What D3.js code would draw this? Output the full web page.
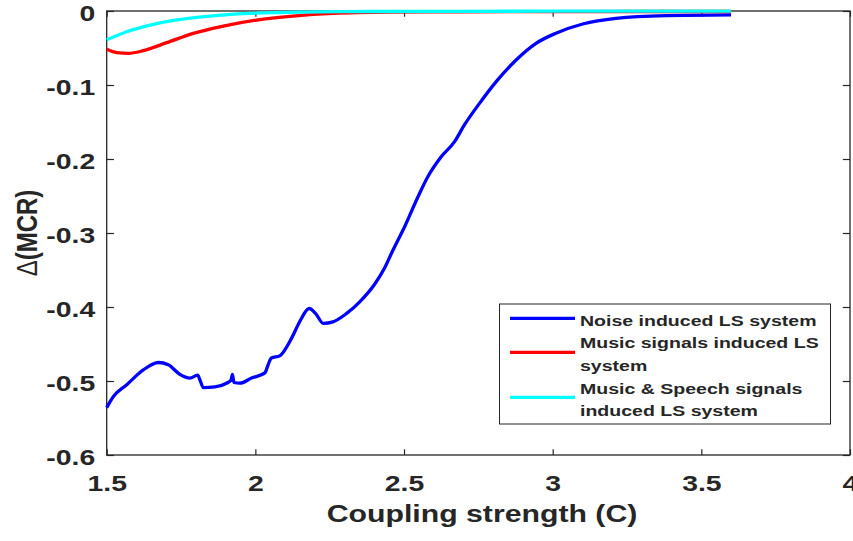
<!DOCTYPE html>
<html>
<head>
<meta charset="utf-8">
<script src="https://cdn.jsdelivr.net/npm/d3@7"></script>
<style>
  html, body { margin: 0; padding: 0; background: #fff; }
  svg text { font-family: "Liberation Sans", Arial, Helvetica, sans-serif; font-weight: bold; fill: #262626; }
</style>
</head>
<body>
<svg id="chart" width="853" height="541"></svg>
<script>
// ---------- data ----------
const xTicks = [1.5, 2, 2.5, 3, 3.5, 4];
const xTickLabels = ["1.5", "2", "2.5", "3", "3.5", "4"];
const yTicks = [0, -0.1, -0.2, -0.3, -0.4, -0.5, -0.6];
const yTickLabels = ["0", "-0.1", "-0.2", "-0.3", "-0.4", "-0.5", "-0.6"];

const noiseC = [1.500, 1.5225, 1.5675, 1.623, 1.674, 1.707, 1.746, 1.780, 1.806, 1.814, 1.825, 1.864, 1.903, 1.918, 1.923, 1.928, 1.948, 1.987, 2.032, 2.043, 2.054, 2.082, 2.122, 2.149, 2.181, 2.203, 2.228, 2.261, 2.306, 2.351, 2.400, 2.435, 2.463, 2.502, 2.547, 2.580, 2.625, 2.670, 2.703, 2.754, 2.810, 2.877, 2.944, 3.011, 3.101, 3.213, 3.381, 3.600];
const noiseMCR = [-0.536, -0.521, -0.505, -0.485, -0.475, -0.478, -0.491, -0.496, -0.492, -0.499, -0.509, -0.508, -0.503, -0.499, -0.491, -0.502, -0.503, -0.496, -0.489, -0.478, -0.469, -0.466, -0.442, -0.420, -0.402, -0.409, -0.422, -0.420, -0.409, -0.393, -0.370, -0.347, -0.323, -0.2915, -0.251, -0.224, -0.197, -0.1766, -0.154, -0.1248, -0.0955, -0.0662, -0.0437, -0.030, -0.0176, -0.0099, -0.0062, -0.0052];

const musicC = [1.500, 1.534, 1.573, 1.623, 1.702, 1.791, 1.892, 2.004, 2.127, 2.261, 2.450, 2.700, 3.000, 3.300, 3.600];
const musicMCR = [-0.0518, -0.0563, -0.0572, -0.0536, -0.0428, -0.0302, -0.0203, -0.0122, -0.0068, -0.0032, -0.0015, -0.0010, -0.0008, -0.0007, -0.0007];

const speechC = [1.500, 1.567, 1.646, 1.735, 1.847, 1.981, 2.149, 2.400, 2.700, 3.000, 3.300, 3.600];
const speechMCR = [-0.039, -0.028, -0.019, -0.012, -0.0068, -0.0032, -0.0014, -0.0007, -0.0004, -0.0003, -0.0003, -0.0003];

const seriesNames = ["Noise induced LS system", "Music signals induced LS system", "Music & Speech signals induced LS system"];
const seriesLegendLines = [["Noise induced LS system"], ["Music signals induced LS", "system"], ["Music & Speech signals", "induced LS system"]];
const seriesColors = ["#0000ff", "#ff0000", "#00ffff"];

const xTitle = "Coupling strength (C)";
const yTitleSymbol = "Δ";
const yTitleText = "(MCR)";

// ---------- layout ----------
const SX = 1.26; // horizontal stretch of glyphs, as in the reference
const pLeft = 106.7, pRight = 850, pTop = 11, pBottom = 455;
const axisColor = "#262626";

const svg = d3.select("#chart");
const x = d3.scaleLinear().domain([1.5, 4]).range([pLeft, pRight]);
const y = d3.scaleLinear().domain([-0.6, 0]).range([pBottom, pTop]);

// ticks (inward, on all four sides)
const gx = svg.append("g").attr("transform", `translate(0,${pBottom})`)
  .call(d3.axisBottom(x).tickValues(xTicks).tickSizeInner(-5.7).tickSizeOuter(0).tickFormat((d, i) => xTickLabels[i]));
gx.select(".domain").remove();
gx.selectAll(".tick line").attr("stroke", axisColor).attr("stroke-width", 1.2);
gx.selectAll(".tick text").attr("y", null).attr("dy", null)
  .attr("transform", `translate(0,35.5) scale(${SX},1)`)
  .style("font-size", "22.5px").attr("fill", axisColor);

const gxTop = svg.append("g").attr("transform", `translate(0,${pTop})`)
  .call(d3.axisTop(x).tickValues(xTicks).tickSizeInner(-5.7).tickSizeOuter(0).tickFormat(""));
gxTop.select(".domain").remove();
gxTop.selectAll(".tick line").attr("stroke", axisColor).attr("stroke-width", 1.2);

const gy = svg.append("g").attr("transform", `translate(${pLeft},0)`)
  .call(d3.axisLeft(y).tickValues(yTicks).tickSizeInner(-7.2).tickSizeOuter(0).tickFormat((d, i) => yTickLabels[i]));
gy.select(".domain").remove();
gy.selectAll(".tick line").attr("stroke", axisColor).attr("stroke-width", 1.2);
gy.selectAll(".tick text").attr("x", null).attr("dy", "0.4em")
  .attr("transform", `translate(-11.5,0) scale(${SX},1)`)
  .style("font-size", "22.5px").attr("fill", axisColor);

const gyRight = svg.append("g").attr("transform", `translate(${pRight},0)`)
  .call(d3.axisRight(y).tickValues(yTicks).tickSizeInner(-7.2).tickSizeOuter(0).tickFormat(""));
gyRight.select(".domain").remove();
gyRight.selectAll(".tick line").attr("stroke", axisColor).attr("stroke-width", 1.2);

// box
svg.append("rect").attr("x", pLeft).attr("y", pTop).attr("width", pRight - pLeft).attr("height", pBottom - pTop)
  .attr("fill", "none").attr("stroke", axisColor).attr("stroke-width", 1.3);

// lines
const line = d3.line().x(d => x(d[0])).y(d => y(d[1])).curve(d3.curveMonotoneX);
const allSeries = [
  d3.zip(noiseC, noiseMCR),
  d3.zip(musicC, musicMCR),
  d3.zip(speechC, speechMCR)
];
allSeries.forEach((s, i) => {
  svg.append("path").datum(s).attr("d", line)
    .attr("fill", "none").attr("stroke", seriesColors[i]).attr("stroke-width", 3.3)
    .attr("stroke-linejoin", "round").attr("stroke-linecap", "butt");
});

// axis titles
svg.append("g").attr("transform", `translate(482,522) scale(${SX},1)`)
  .append("text").attr("text-anchor", "middle").style("font-size", "24px").text(xTitle);

const yt = svg.append("g").attr("transform", `translate(37,233) scale(${SX},1) rotate(-90)`)
  .append("text").attr("text-anchor", "middle").style("font-size", "24px");
yt.append("tspan").style("font-weight", "normal").text(yTitleSymbol);
yt.append("tspan").text(yTitleText);

// legend
const lg = svg.append("g");
lg.append("rect").attr("x", 499.5).attr("y", 304).attr("width", 331).attr("height", 120)
  .attr("fill", "#fff").attr("stroke", axisColor).attr("stroke-width", 1);
const legendLineY = [318.3, 352.3, 397.3];
const legendTextY = [[326], [348.3, 371], [394, 416]];
seriesNames.forEach((name, i) => {
  lg.append("line").attr("x1", 510).attr("x2", 575).attr("y1", legendLineY[i]).attr("y2", legendLineY[i])
    .attr("stroke", seriesColors[i]).attr("stroke-width", 3.3);
  seriesLegendLines[i].forEach((t, j) => {
    lg.append("g").attr("transform", `translate(580,${legendTextY[i][j]}) scale(${SX},1)`)
      .append("text").style("font-size", "15.5px").attr("fill", "#000").text(t);
  });
});
</script>
</body>
</html>
